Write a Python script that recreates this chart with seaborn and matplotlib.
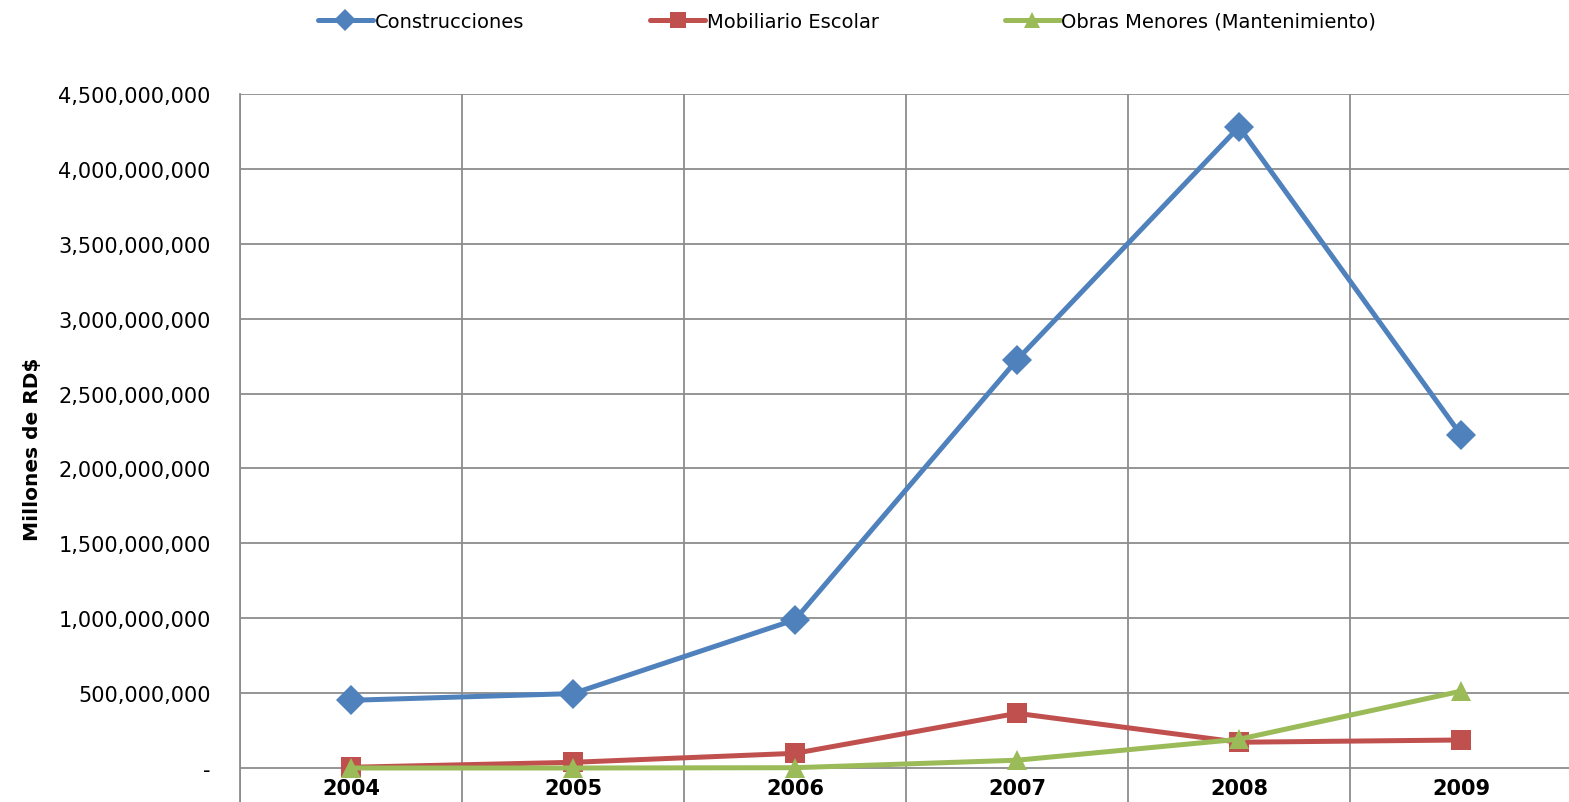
import pandas as pd
import matplotlib.pyplot as plt
import seaborn as sns
from matplotlib.ticker import FuncFormatter, FixedLocator

# Values (RD$)
years = ['2004', '2005', '2006', '2007', '2008', '2009']
construcciones = [452e6, 497e6, 990e6, 2725e6, 4280e6, 2223e6]
mobiliario = [5e6, 38e6, 98e6, 365e6, 172e6, 187e6]
obras = [0, 0, 2e6, 52e6, 192e6, 513e6]
series_names = ['Construcciones', 'Mobiliario Escolar', 'Obras Menores (Mantenimiento)']
colors = ['#4F81BD', '#C0504D', '#9BBB59']
markers = ['D', 's', '^']

data = pd.DataFrame({
    'Año': years * 3,
    'Monto': construcciones + mobiliario + obras,
    'Serie': [s for s in series_names for _ in years],
})

sns.set_style('white')
plt.rcParams['font.family'] = ['DejaVu Sans']
plt.rcParams['text.color'] = 'black'
plt.rcParams['axes.labelcolor'] = 'black'
plt.rcParams['xtick.color'] = 'black'
plt.rcParams['ytick.color'] = 'black'

fig = plt.figure(figsize=(15.69, 8.03), dpi=100)
ax = fig.add_axes([240 / 1569, 0.0, 1332 / 1569, 1 - 95 / 803])

sns.lineplot(data=data, x='Año', y='Monto', hue='Serie', style='Serie',
             palette=colors, markers=markers, dashes=False, sort=False,
             linewidth=3.6, markersize=15, markeredgewidth=0, legend=False, ax=ax)

ax.set_xlim(-0.5, 5.5)
ax.set_ylim(-227e6, 4.5e9)
ax.yaxis.set_major_locator(FixedLocator([i * 500e6 for i in range(10)]))
ax.yaxis.set_major_formatter(FuncFormatter(lambda v, p: '-' if v == 0 else f'{v:,.0f}'))
ax.xaxis.set_minor_locator(FixedLocator([i + 0.5 for i in range(-1, 6)]))

ax.grid(True, which='major', axis='y', color='#8C8C8C', linewidth=1.3)
ax.grid(True, which='minor', axis='x', color='#8C8C8C', linewidth=1.3)
ax.grid(False, which='major', axis='x')
for side in ['top', 'right', 'bottom']:
    ax.spines[side].set_visible(False)
ax.spines['left'].set_color('#8C8C8C')
ax.spines['left'].set_linewidth(1.3)

ax.tick_params(axis='y', labelsize=15, length=0, pad=21)
ax.tick_params(axis='x', which='both', length=0)
ax.tick_params(axis='x', labelsize=15, pad=-17)
for lbl in ax.get_xticklabels():
    lbl.set_fontweight('bold')

ax.set_xlabel('')
ax.set_ylabel('Millones de RD$', fontsize=14.5, fontweight='bold', labelpad=12)

lines = ax.get_lines()[:3]
fig.legend(lines, series_names, loc='upper center', bbox_to_anchor=(0.54, 1.006),
           ncol=3, frameon=False, fontsize=14, handlelength=2.8, markerscale=0.75,
           handletextpad=0.1, columnspacing=6.5)

plt.savefig('out.png', dpi=100)
